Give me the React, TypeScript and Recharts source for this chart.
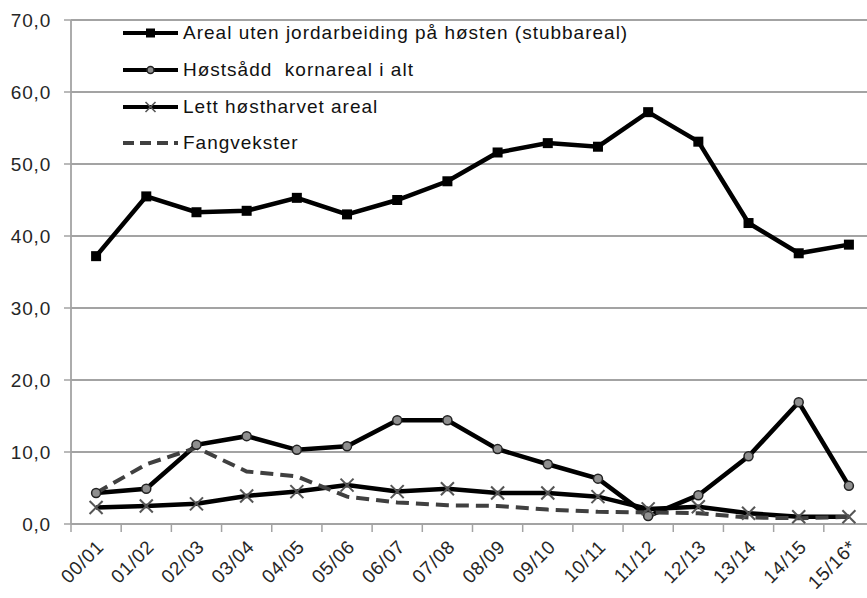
import React from "react";
import {
  LineChart,
  Line,
  XAxis,
  YAxis,
  CartesianGrid,
  Legend,
} from "recharts";

// Seasons on the x axis (last one is preliminary)
const SEASONS = [
  "00/01", "01/02", "02/03", "03/04", "04/05", "05/06", "06/07", "07/08",
  "08/09", "09/10", "10/11", "11/12", "12/13", "13/14", "14/15", "15/16*",
];

const STUBB = [37.2, 45.5, 43.3, 43.5, 45.3, 43.0, 45.0, 47.6, 51.6, 52.9, 52.4, 57.2, 53.1, 41.8, 37.6, 38.8];
const KORN = [4.3, 4.9, 11.0, 12.2, 10.3, 10.8, 14.4, 14.4, 10.4, 8.3, 6.3, 1.1, 4.0, 9.4, 16.9, 5.3];
const HARVET = [2.3, 2.5, 2.8, 3.9, 4.5, 5.4, 4.5, 4.9, 4.3, 4.3, 3.8, 2.1, 2.4, 1.5, 1.0, 1.0];
const FANG = [4.3, 8.3, 10.6, 7.3, 6.6, 3.8, 3.0, 2.6, 2.5, 2.0, 1.7, 1.6, 1.5, 0.9, 0.8, 1.0];

const Y_TICKS = [0, 10, 20, 30, 40, 50, 60, 70];

const FONT = '"Liberation Sans", Arial, sans-serif';
const GRID = "#a3a3a3";
const TEXT = "#262626";

const chartData = SEASONS.map((season, i) => ({
  idx: i,
  season,
  stubb: STUBB[i],
  korn: KORN[i],
  harvet: HARVET[i],
  fang: FANG[i],
}));

// tick values: category centres (labels) and the boundaries between them (tick marks)
const X_TICKS = SEASONS.flatMap((_, i) => [i - 0.5, i]);

type Marker = "square" | "circle" | "cross" | "none";

function MarkerShape({ kind, cx, cy, small }: { kind: Marker; cx: number; cy: number; small?: boolean }) {
  if (kind === "square") {
    const s = small ? 9 : 10;
    return <rect x={cx - s / 2} y={cy - s / 2} width={s} height={s} fill="#000" />;
  }
  if (kind === "circle") {
    return <circle cx={cx} cy={cy} r={small ? 3.5 : 4.5} fill="#8f8f8f" stroke="#222" strokeWidth={1.5} />;
  }
  if (kind === "cross") {
    const h = small ? 5 : 6.5;
    return (
      <g stroke="#555" strokeWidth={small ? 1.6 : 2}>
        <line x1={cx - h} y1={cy - h} x2={cx + h} y2={cy + h} />
        <line x1={cx - h} y1={cy + h} x2={cx + h} y2={cy - h} />
      </g>
    );
  }
  return null;
}

const SERIES: { key: string; name: string; marker: Marker; color: string; dash?: string }[] = [
  { key: "stubb", name: "Areal uten jordarbeiding på høsten (stubbareal)", marker: "square", color: "#000" },
  { key: "korn", name: "Høstsådd  kornareal i alt", marker: "circle", color: "#000" },
  { key: "harvet", name: "Lett høstharvet areal", marker: "cross", color: "#000" },
  { key: "fang", name: "Fangvekster", marker: "none", color: "#404040", dash: "13 7" },
];

function makeDot(kind: Marker, key: string) {
  return (props: any) => {
    const { cx, cy, index } = props;
    if (cx == null || cy == null) return <g key={`${key}-${index}`} />;
    return (
      <g key={`${key}-${index}`}>
        <MarkerShape kind={kind} cx={cx} cy={cy} />
      </g>
    );
  };
}

function SeasonTick(props: any) {
  const { x, y, payload } = props;
  const v = payload.value as number;
  if (!Number.isInteger(v)) {
    return <line x1={x} x2={x} y1={y} y2={y + 8} stroke={GRID} strokeWidth={1.5} />;
  }
  const tx = x + 9;
  const ty = y + 24;
  return (
    <text
      x={tx}
      y={ty}
      transform={`rotate(-45 ${tx} ${ty})`}
      textAnchor="end"
      fill={TEXT}
      fontSize={19}
      letterSpacing={0.8}
      fontFamily={FONT}
    >
      {SEASONS[v]}
    </text>
  );
}

function LegendBox() {
  return (
    <div style={{ fontFamily: FONT, fontSize: 19, letterSpacing: 1, color: "#111" }}>
      {SERIES.map((s) => (
        <div key={s.key} style={{ display: "flex", alignItems: "center", height: 36.7, whiteSpace: "pre" }}>
          <svg width={60} height={20} style={{ flex: "none" }}>
            <line
              x1={0}
              x2={55}
              y1={10}
              y2={10}
              stroke={s.color}
              strokeWidth={4}
              strokeDasharray={s.dash ? "11 6" : undefined}
            />
            <MarkerShape kind={s.marker} cx={27.5} cy={10} small />
          </svg>
          <span>{s.name}</span>
        </div>
      ))}
    </div>
  );
}

export default function App() {
  return (
    <div
      style={{
        position: "absolute",
        left: 0,
        top: 0,
        width: 867,
        height: 598,
        overflow: "hidden",
        background: "#fff",
      }}
    >
      <LineChart
        width={874}
        height={598}
        data={chartData}
        margin={{ top: 20, right: 0, bottom: 0, left: 0 }}
      >
        <CartesianGrid vertical={false} stroke={GRID} strokeWidth={1.8} />
        <XAxis
          dataKey="idx"
          type="number"
          domain={[-0.5, SEASONS.length - 0.5]}
          ticks={X_TICKS}
          interval={0}
          height={74}
          tickLine={false}
          tickSize={0}
          tickMargin={0}
          axisLine={{ stroke: GRID, strokeWidth: 1.8 }}
          tick={<SeasonTick />}
        />
        <YAxis
          domain={[0, 70]}
          ticks={Y_TICKS}
          width={71}
          tickSize={7}
          tickMargin={13}
          tickLine={{ stroke: GRID, strokeWidth: 1.5 }}
          axisLine={{ stroke: GRID, strokeWidth: 1.8 }}
          tick={{ fill: TEXT, fontSize: 19, fontFamily: FONT, letterSpacing: 0.8 }}
          tickFormatter={(v: number) => v.toFixed(1).replace(".", ",")}
        />
        <Legend
          layout="horizontal"
          verticalAlign="middle"
          align="center"
          content={<LegendBox />}
          wrapperStyle={{ position: "absolute", top: 15, left: 123, width: "auto", height: "auto" }}
        />
        {SERIES.map((s) => (
          <Line
            key={s.key}
            type="linear"
            dataKey={s.key}
            name={s.name}
            stroke={s.color}
            strokeWidth={s.dash ? 4 : 4.5}
            strokeDasharray={s.dash}
            dot={s.marker === "none" ? false : makeDot(s.marker, s.key)}
            activeDot={false}
            isAnimationActive={false}
          />
        ))}
      </LineChart>
    </div>
  );
}
